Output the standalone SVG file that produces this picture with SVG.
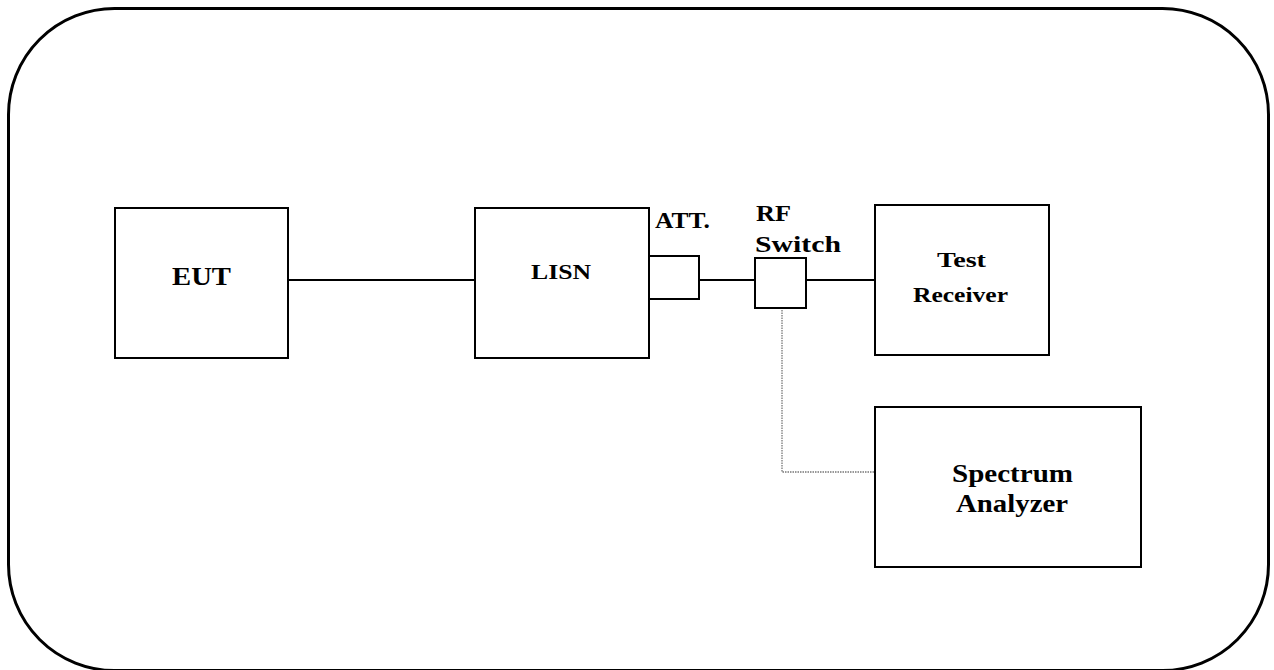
<svg xmlns="http://www.w3.org/2000/svg" width="1274" height="670" viewBox="0 0 1274 670">
<style>
.box{fill:#fff;stroke:#000;stroke-width:2}
.ln{stroke:#000;stroke-width:2;fill:none}
.dot{stroke:#777;stroke-width:1.3;stroke-dasharray:1.5,1;fill:none}
text{font-family:"Liberation Serif","DejaVu Serif",serif;font-weight:bold;fill:#000}
</style>
<rect x="0" y="0" width="1274" height="670" fill="#fff"/>
<rect id="frame" x="8.5" y="8.5" width="1260" height="662" rx="106" ry="106" fill="none" stroke="#000" stroke-width="3"/>
<g id="connectors">
<line class="ln" x1="288" y1="280" x2="475" y2="280"/>
<line class="ln" x1="699" y1="280" x2="755" y2="280"/>
<line class="ln" x1="806" y1="280" x2="875" y2="280"/>
<polyline class="dot" points="782,310 782,472 875,472"/>
</g>
<g id="eut"><rect class="box" x="115" y="208" width="173" height="150"/><text x="201.5" y="285" font-size="25" text-anchor="middle" textLength="59" lengthAdjust="spacingAndGlyphs">EUT</text></g>
<g id="lisn"><rect class="box" x="475" y="208" width="174" height="150"/><text x="561" y="279" font-size="22" text-anchor="middle" textLength="60" lengthAdjust="spacingAndGlyphs">LISN</text></g>
<g id="att"><rect class="box" x="649" y="256" width="50" height="43"/><text x="655" y="228" font-size="23" textLength="55" lengthAdjust="spacingAndGlyphs">ATT.</text></g>
<g id="rfswitch"><rect class="box" x="755" y="258" width="51" height="50"/><text x="756" y="221" font-size="23" textLength="35" lengthAdjust="spacingAndGlyphs">RF</text><text x="755" y="252" font-size="23" textLength="86" lengthAdjust="spacingAndGlyphs">Switch</text></g>
<g id="receiver"><rect class="box" x="875" y="205" width="174" height="150"/><text x="961.5" y="267" font-size="22" text-anchor="middle" textLength="49" lengthAdjust="spacingAndGlyphs">Test</text><text x="960.5" y="302" font-size="22" text-anchor="middle" textLength="95" lengthAdjust="spacingAndGlyphs">Receiver</text></g>
<g id="analyzer"><rect class="box" x="875" y="407" width="266" height="160"/><text x="1012.5" y="482" font-size="26" text-anchor="middle" textLength="121" lengthAdjust="spacingAndGlyphs">Spectrum</text><text x="1012" y="512" font-size="26" text-anchor="middle" textLength="112" lengthAdjust="spacingAndGlyphs">Analyzer</text></g>
</svg>
